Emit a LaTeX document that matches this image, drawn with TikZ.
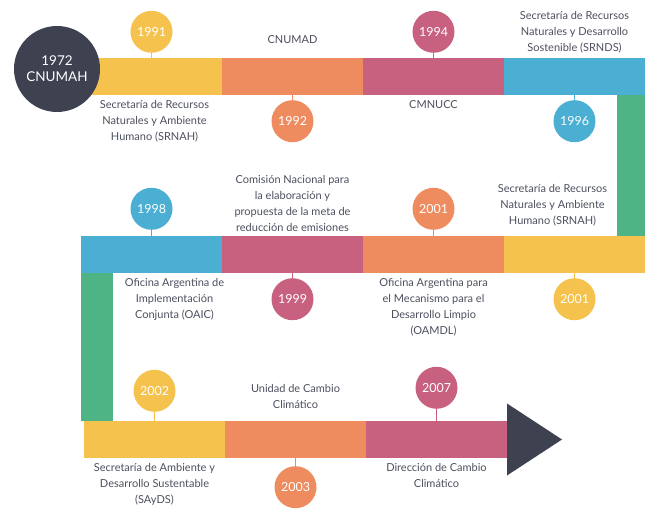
\documentclass[tikz,border=0pt]{standalone}
\usepackage{fontspec}
\setmainfont{Lato}
\usetikzlibrary{positioning}
\definecolor{tlyellow}{HTML}{F4C24D}
\definecolor{tlorange}{HTML}{EE8C60}
\definecolor{tlpink}{HTML}{C8607F}
\definecolor{tlblue}{HTML}{4AAFD2}
\definecolor{tlgreen}{HTML}{4EB486}
\definecolor{tldark}{HTML}{3E4150}
\definecolor{txtgray}{HTML}{4C4F5E}

\begin{document}
\begin{tikzpicture}[x=1pt, y=-1pt,
    seg/.style={rectangle, minimum width=141pt, minimum height=37pt, inner sep=0pt, outer sep=0pt},
    link/.style={rectangle, inner sep=0pt, outer sep=0pt, fill=tlgreen},
    year/.style={circle, minimum size=42pt, inner sep=0pt, text=white, font=\fontsize{12.5}{14}\selectfont},
    stem/.style={line width=1.5pt},
    txt/.style={align=center, text=txtgray, inner sep=0pt, font=\fontsize{11}{16}\selectfont}
]
\useasboundingbox (0,0) rectangle (654,513);

% Row 1
\node (s1) [seg, fill=tlyellow] at (151.5,76.5) {};
\node (s2) [seg, fill=tlorange, right=0pt of s1] {};
\node (s3) [seg, fill=tlpink, right=0pt of s2] {};
\node (s4) [seg, fill=tlblue, right=0pt of s3] {};
\node (start) [circle, fill=tldark, minimum size=86pt, align=center, text=white, font=\fontsize{13.5}{16}\selectfont] at (57,69) {1972\\CNUMAH};

\node (y1991) [year, fill=tlyellow, above=5pt of s1] {1991};
\node (y1992) [year, fill=tlorange, below=5pt of s2] {1992};
\node (y1994) [year, fill=tlpink, above=5pt of s3] {1994};
\node (y1996) [year, fill=tlblue, below=5pt of s4] {1996};
\draw [stem, tlyellow] (y1991) -- (s1);
\draw [stem, tlorange] (y1992) -- (s2);
\draw [stem, tlpink] (y1994) -- (s3);
\draw [stem, tlblue] (y1996) -- (s4);

\node (srnah) [txt, below=5pt of s1, xshift=3pt] {Secretaría de Recursos\\Naturales y Ambiente\\Humano (SRNAH)};
\node (cnumad) [txt, above=14pt of s2] {CNUMAD};
\node (cmnucc) [txt, below=5pt of s3] {CMNUCC};
\node (srnds) [txt, above=5pt of s4] {Secretaría de Recursos\\Naturales y Desarrollo\\Sostenible (SRNDS)};

% Row 2
\node (g1) [link, minimum width=28pt, minimum height=141pt, below left=0pt of s4.south east] {};
\node (s8) [seg, fill=tlyellow, below left=0pt of g1.south east] {};
\node (s7) [seg, fill=tlorange, left=0pt of s8] {};
\node (s6) [seg, fill=tlpink, left=0pt of s7] {};
\node (s5) [seg, fill=tlblue, left=0pt of s6] {};

\node (y1998) [year, fill=tlblue, above=6pt of s5] {1998};
\node (y1999) [year, fill=tlpink, below=5pt of s6] {1999};
\node (y2001a) [year, fill=tlorange, above=6pt of s7] {2001};
\node (y2001b) [year, fill=tlyellow, below=5pt of s8] {2001};
\draw [stem, tlblue] (y1998) -- (s5);
\draw [stem, tlpink] (y1999) -- (s6);
\draw [stem, tlorange] (y2001a) -- (s7);
\draw [stem, tlyellow] (y2001b) -- (s8);

\node (oaic) [txt, below=5pt of s5, xshift=23pt] {Oficina Argentina de\\Implementación\\Conjunta (OAIC)};
\node (meta) [txt, above=4pt of s6] {Comisión Nacional para\\la elaboración y\\propuesta de la meta de\\reducción de emisiones};
\node (oamdl) [txt, below=5pt of s7] {Oficina Argentina para\\el Mecanismo para el\\Desarrollo Limpio\\(OAMDL)};
\node (srnah2) [txt, above=10pt of s8, xshift=-22pt] {Secretaría de Recursos\\Naturales y Ambiente\\Humano (SRNAH)};

% Row 3
\node (g2) [link, minimum width=32pt, minimum height=148pt, below right=0pt of s5.south west] {};
\node (s9) [seg, fill=tlyellow, below right=0pt of g2.south west, xshift=3pt] {};
\node (s10) [seg, fill=tlorange, right=0pt of s9] {};
\node (s11) [seg, fill=tlpink, right=0pt of s10] {};
\fill [tldark] (s11.east) ++(0,-36) -- ++(55,36) -- ++(-55,36) -- cycle;

\node (y2002) [year, fill=tlyellow, above=9pt of s9] {2002};
\node (y2003) [year, fill=tlorange, below=8pt of s10] {2003};
\node (y2007) [year, fill=tlpink, above=12pt of s11] {2007};
\draw [stem, tlyellow] (y2002) -- (s9);
\draw [stem, tlorange] (y2003) -- (s10);
\draw [stem, tlpink] (y2007) -- (s11);

\node (sayds) [txt, below=5pt of s9] {Secretaría de Ambiente y\\Desarrollo Sustentable\\(SAyDS)};
\node (unidad) [txt, above=12pt of s10] {Unidad de Cambio\\Climático};
\node (direccion) [txt, below=5pt of s11] {Dirección de Cambio\\Climático};

\end{tikzpicture}
\end{document}
